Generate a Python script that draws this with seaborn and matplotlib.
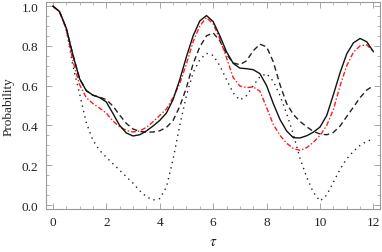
import numpy as np
import pandas as pd
import seaborn as sns
import matplotlib.pyplot as plt
from matplotlib.ticker import MultipleLocator

# values
tau = np.arange(0, 12.01, 0.25)

p_solid = [1.00, 0.972, 0.89, 0.755, 0.635, 0.575, 0.552, 0.54, 0.518, 0.46,
           0.40, 0.362, 0.347, 0.353, 0.372, 0.397, 0.425, 0.462, 0.53, 0.63,
           0.745, 0.85, 0.925, 0.952, 0.922, 0.85, 0.77, 0.712, 0.688, 0.685,
           0.68, 0.66, 0.60, 0.51, 0.43, 0.372, 0.338, 0.337, 0.348, 0.366,
           0.392, 0.45, 0.555, 0.665, 0.76, 0.815, 0.837, 0.82, 0.77]

p_red = [1.00, 0.972, 0.885, 0.725, 0.605, 0.54, 0.51, 0.487, 0.462, 0.422,
         0.393, 0.375, 0.367, 0.372, 0.39, 0.418, 0.45, 0.482, 0.54, 0.61,
         0.71, 0.82, 0.90, 0.942, 0.91, 0.835, 0.74, 0.64, 0.598, 0.59,
         0.593, 0.572, 0.49, 0.405, 0.35, 0.31, 0.284, 0.275, 0.288, 0.315,
         0.35, 0.40, 0.48, 0.60, 0.70, 0.768, 0.80, 0.805, 0.77]

p_dashed = [1.00, 0.972, 0.89, 0.755, 0.635, 0.575, 0.552, 0.542, 0.53, 0.497,
            0.452, 0.41, 0.382, 0.37, 0.366, 0.367, 0.373, 0.39, 0.425, 0.495,
            0.59, 0.71, 0.795, 0.85, 0.865, 0.825, 0.758, 0.714, 0.705, 0.725,
            0.775, 0.808, 0.795, 0.72, 0.605, 0.51, 0.455, 0.42, 0.393, 0.37,
            0.357, 0.353, 0.365, 0.397, 0.445, 0.492, 0.54, 0.578, 0.60]

p_dotted = [1.00, 0.972, 0.885, 0.70, 0.56, 0.415, 0.325, 0.275, 0.24, 0.207,
            0.175, 0.142, 0.11, 0.072, 0.042, 0.025, 0.032, 0.09, 0.23, 0.40,
            0.55, 0.665, 0.73, 0.762, 0.752, 0.70, 0.63, 0.563, 0.527, 0.55,
            0.60, 0.645, 0.66, 0.622, 0.55, 0.46, 0.355, 0.235, 0.14, 0.063,
            0.02, 0.05, 0.115, 0.18, 0.232, 0.27, 0.30, 0.32, 0.332]

sns.set_style("ticks")
plt.rcParams['font.family'] = ['Liberation Serif', 'DejaVu Serif']
plt.rcParams['mathtext.fontset'] = 'stix'

fig = plt.figure(figsize=(3.82, 2.53), dpi=100)
ax = fig.add_axes([0.1215, 0.170, 0.873, 0.818])

sns.lineplot(x=tau, y=p_dashed, ax=ax, color='#222222', lw=1.0,
             linestyle=(0, (4, 2.5)))
sns.lineplot(x=tau, y=p_dotted, ax=ax, color='#222222', lw=1.0,
             linestyle=(0, (1, 3)))
sns.lineplot(x=tau, y=p_red, ax=ax, color='#ff1a1a', lw=1.0,
             linestyle=(0, (3.5, 1.5, 1, 1.5)))
sns.lineplot(x=tau, y=p_solid, ax=ax, color='#111111', lw=1.0)

ax.set_xlim(-0.24, 12.24)
ax.set_ylim(-0.02, 1.02)
ax.xaxis.set_major_locator(MultipleLocator(2))
ax.xaxis.set_minor_locator(MultipleLocator(0.5))
ax.yaxis.set_major_locator(MultipleLocator(0.2))
ax.yaxis.set_minor_locator(MultipleLocator(0.05))
ax.xaxis.set_major_formatter(plt.FormatStrFormatter('%d'))
ax.yaxis.set_major_formatter(plt.FormatStrFormatter('%.1f'))

ax.tick_params(which='both', direction='in', top=True, right=True,
               color='#999999', labelsize=9.5, labelcolor='#222222')
ax.tick_params(axis='y', pad=6)
ax.tick_params(axis='x', pad=5)
ax.tick_params(which='major', length=4, width=0.6)
ax.tick_params(which='minor', length=2, width=0.5)
for s in ax.spines.values():
    s.set_color('#999999')
    s.set_linewidth(0.8)

ax.set_xlabel(r'$\tau$', fontsize=11, color='#222222', labelpad=5)
ax.set_ylabel('Probability', fontsize=9.5, color='#222222', labelpad=5)

plt.savefig('out.png', dpi=100)
